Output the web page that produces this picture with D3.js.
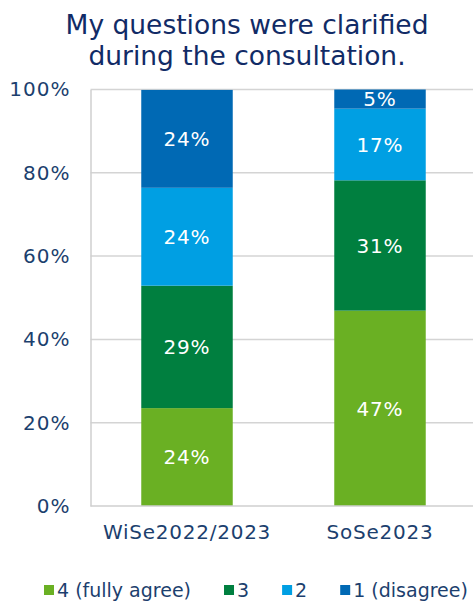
<!DOCTYPE html>
<html>
<head>
<meta charset="utf-8">
<script src="https://cdn.jsdelivr.net/npm/d3@7"></script>
<style>
  body { margin: 0; background: #fff; }
  svg { display: block; font-family: "DejaVu Sans", Verdana, sans-serif; }
</style>
</head>
<body>
<svg id="chart" width="473" height="601"></svg>
<script>
const TITLE_LINES = ["My questions were clarified", "during the consultation."];
const CATEGORIES = ["WiSe2022/2023", "SoSe2023"];
const SERIES = ["4 (fully agree)", "3", "2", "1 (disagree)"];
const COLORS = ["#6ab023", "#007f3f", "#009fe3", "#0069b4"];
// percentages per series, in category order
const FULLY_AGREE = [23.5, 46.9];
const THREE = [29.4, 31.3];
const TWO = [23.5, 17.2];
const DISAGREE = [23.5, 4.7];
const Y_TICKS = [0, 20, 40, 60, 80, 100];

const values = [FULLY_AGREE, THREE, TWO, DISAGREE];
const svg = d3.select("#chart");
const margin = { left: 90.5, right: -3.5, top: 89.5, bottom: 95 };
const W = 473, H = 601;

const x = d3.scaleBand()
  .domain(CATEGORIES)
  .range([margin.left, W - margin.right])
  .paddingInner(0.526)
  .paddingOuter(0.263);

const y = d3.scaleLinear()
  .domain([0, 100])
  .range([H - margin.bottom, margin.top]);

// title
svg.append("g").selectAll("text")
  .data(TITLE_LINES)
  .join("text")
  .attr("x", 247)
  .attr("y", (d, i) => 34 + i * 31)
  .attr("text-anchor", "middle")
  .attr("fill", "#112b66")
  .attr("font-size", "26.5px")
  .text(d => d);

// gridlines
svg.append("g").selectAll("line")
  .data(Y_TICKS.slice(1))
  .join("line")
  .attr("x1", margin.left).attr("x2", W)
  .attr("y1", d => y(d)).attr("y2", d => y(d))
  .attr("stroke", "#d4d4d4")
  .attr("stroke-width", 1.5);

// y axis
const yAxis = svg.append("g")
  .attr("transform", `translate(${margin.left},0)`)
  .call(d3.axisLeft(y).tickValues(Y_TICKS).tickFormat(d => d + "%").tickSize(0).tickPadding(20));
yAxis.select(".domain").attr("stroke", "#cfcfcf").attr("stroke-width", 1.5);
yAxis.selectAll("text")
  .attr("fill", "#1c3f6e")
  .attr("font-size", "20px")
  .attr("letter-spacing", "1px")
  .attr("font-family", "DejaVu Sans, Verdana, sans-serif");

// stacked bars
const stacked = [];
CATEGORIES.forEach((c, ci) => {
  let acc = 0;
  SERIES.forEach((s, si) => {
    const v = values[si][ci];
    stacked.push({ cat: c, series: si, y0: acc, y1: acc + v, v: v });
    acc += v;
  });
});

svg.append("g").selectAll("rect")
  .data(stacked)
  .join("rect")
  .attr("x", d => x(d.cat))
  .attr("width", x.bandwidth())
  .attr("y", d => y(Math.min(d.y1, 100)))
  .attr("height", d => y(d.y0) - y(Math.min(d.y1, 100)))
  .attr("fill", d => COLORS[d.series]);

svg.append("g").selectAll("text")
  .data(stacked)
  .join("text")
  .attr("x", d => x(d.cat) + x.bandwidth() / 2)
  .attr("y", d => (y(d.y0) + y(Math.min(d.y1, 100))) / 2)
  .attr("dy", "0.36em")
  .attr("text-anchor", "middle")
  .attr("fill", "#fff")
  .attr("font-size", "20px")
  .attr("letter-spacing", "0.8px")
  .text(d => Math.round(d.v) + "%");

// x axis
const xAxis = svg.append("g")
  .attr("transform", `translate(0,${y(0)})`)
  .call(d3.axisBottom(x).tickSize(0).tickPadding(19));
xAxis.select(".domain").remove();
svg.append("line")
  .attr("x1", margin.left).attr("x2", W)
  .attr("y1", y(0)).attr("y2", y(0))
  .attr("stroke", "#cfcfcf").attr("stroke-width", 1.5);
xAxis.selectAll("text")
  .attr("fill", "#1c3f6e")
  .attr("font-size", "20px")
  .attr("letter-spacing", "0.75px")
  .attr("font-family", "DejaVu Sans, Verdana, sans-serif");

// legend
const legend = svg.append("g").attr("transform", "translate(44,590)");
let lx = 0;
SERIES.forEach((s, i) => {
  const item = legend.append("g").attr("transform", `translate(${lx},0)`);
  item.append("rect")
    .attr("x", 0).attr("y", -5).attr("width", 10).attr("height", 10)
    .attr("fill", COLORS[i]);
  const t = item.append("text")
    .attr("x", 13).attr("dy", "0.36em")
    .attr("fill", "#1c3f6e")
    .attr("font-size", "19px")
    .text(s);
  lx += 13 + t.node().getComputedTextLength() + 33;
});
</script>
</body>
</html>
